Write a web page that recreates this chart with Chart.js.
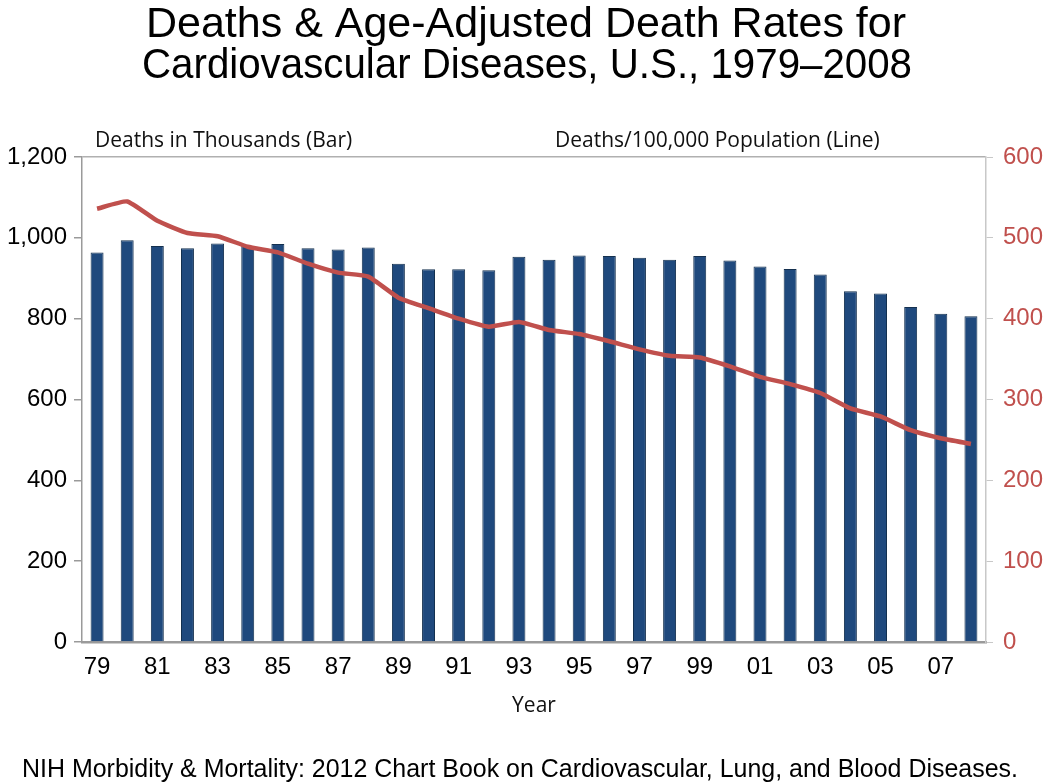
<!DOCTYPE html>
<html>
<head>
<meta charset="utf-8">
<script src="https://cdn.jsdelivr.net/npm/chart.js@4.4.1/dist/chart.umd.min.js"></script>
<style>
  body { margin: 0; background: #fff; }
  canvas { display: block; }
</style>
</head>
<body>
<canvas id="cvd-chart" width="1050" height="784"></canvas>
<script>
var years = ['79','80','81','82','83','84','85','86','87','88','89','90','91','92','93',
             '94','95','96','97','98','99','00','01','02','03','04','05','06','07','08'];
// deaths in thousands (bars, left axis)
var deaths = [964, 994, 980, 974, 986, 980, 985, 974, 971, 976, 936, 922, 922, 920, 953,
              946, 956, 955, 951, 946, 955, 944, 929, 923, 909, 868, 862, 829, 812, 806];
// age-adjusted deaths per 100,000 (line, right axis)
var rates = [536, 545, 521, 506, 502, 489, 482, 468, 457, 452, 426, 413, 400, 390, 396,
             386, 381, 372, 362, 354, 352, 341, 328, 319, 308, 289, 279, 262, 252, 245];

var titleLines = ['Deaths & Age-Adjusted Death Rates for', 'Cardiovascular Diseases, U.S., 1979\u20132008'];
var leftLabel = 'Deaths in Thousands (Bar)';
var rightLabel = 'Deaths/100,000 Population (Line)';
var xLabel = 'Year';
var source = 'NIH Morbidity & Mortality: 2012 Chart Book on Cardiovascular, Lung, and Blood Diseases.';

var red = '#c0504d';
var axisGray = '#9a9a9a';

var textPlugin = {
  id: 'texts',
  afterDraw: function(chart) {
    var ctx = chart.ctx;
    var area = chart.chartArea;
    ctx.save();
    ctx.fillStyle = '#000';
    ctx.textBaseline = 'middle';

    ctx.textAlign = 'center';
    ctx.font = '43px "Liberation Sans", Arial, sans-serif';
    ctx.fillText(titleLines[0], 526, 25, 765);
    ctx.fillText(titleLines[1], 527, 66, 770);

    ctx.textAlign = 'left';
    ctx.font = '21px "Open Sans", sans-serif';
    ctx.fillStyle = '#111';
    ctx.fillText(leftLabel, 95, 141, 260);
    ctx.fillText(rightLabel, 555, 141, 335);

    ctx.textAlign = 'center';
    ctx.fillText(xLabel, (area.left + area.right) / 2, 706, 45);

    ctx.textAlign = 'left';
    ctx.fillStyle = '#000';
    ctx.font = '25px "Liberation Sans Narrow", "Liberation Sans", Arial, sans-serif';
    ctx.fillText(source, 22, 770, 996);
    ctx.restore();
  }
};

new Chart('cvd-chart', {
  data: {
    labels: years,
    datasets: [{
      type: 'line',
      data: rates,
      yAxisID: 'yRight',
      borderColor: red,
      borderWidth: 4.5,
      pointRadius: 0,
      tension: 0.15,
      fill: false,
      order: 0
    }, {
      type: 'bar',
      data: deaths,
      yAxisID: 'y',
      backgroundColor: '#1f497d',
      borderColor: '#14304f',
      borderWidth: 1,
      barPercentage: 0.43,
      categoryPercentage: 1,
      order: 1
    }]
  },
  options: {
    responsive: false,
    animation: false,
    layout: { padding: { top: 157, left: 0, right: 0, bottom: 82 } },
    plugins: {
      legend: { display: false },
      tooltip: { enabled: false }
    },
    scales: {
      x: {
        offset: true,
        grid: { display: false },
        border: { display: true, color: axisGray, width: 2.5 },
        ticks: {
          autoSkip: false,
          maxRotation: 0,
          padding: 3,
          color: '#000',
          font: { family: '"Liberation Sans", Arial, sans-serif', size: 24 },
          callback: function(v, i) { return i % 2 === 0 ? years[i] : ''; }
        },
        afterFit: function(scale) { scale.height = 60; }
      },
      y: {
        position: 'left',
        min: 0,
        max: 1200,
        ticks: {
          stepSize: 200,
          padding: 7,
          color: '#000',
          font: { family: '"Liberation Sans", Arial, sans-serif', size: 24 }
        },
        grid: {
          color: function(c) { return c.tick && c.tick.value === 1200 ? '#b0b0b0' : 'rgba(0,0,0,0)'; },
          tickColor: axisGray,
          tickLength: 8,
          lineWidth: 1.5
        },
        border: { display: true, color: axisGray, width: 1.5 },
        afterFit: function(scale) { scale.width = 82; }
      },
      yRight: {
        position: 'right',
        min: 0,
        max: 600,
        ticks: {
          stepSize: 100,
          padding: 10,
          color: red,
          font: { family: '"Liberation Sans", Arial, sans-serif', size: 24 }
        },
        grid: { drawOnChartArea: false, tickColor: '#c8c8c8', tickLength: 7 },
        border: { display: true, color: '#c8c8c8', width: 1.5 },
        afterFit: function(scale) { scale.width = 64; }
      }
    }
  },
  plugins: [textPlugin]
});
</script>
</body>
</html>
